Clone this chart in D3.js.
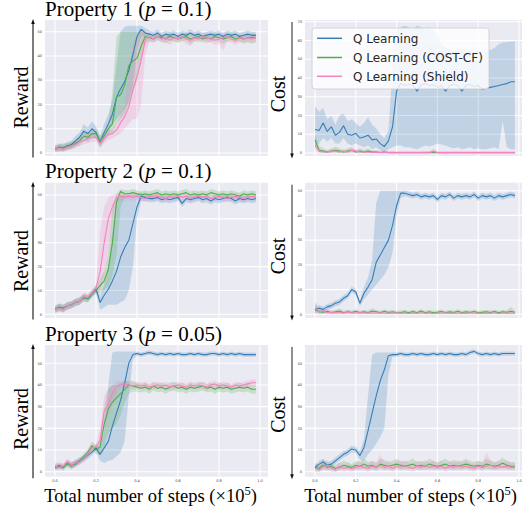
<!DOCTYPE html>
<html>
<head>
<meta charset="utf-8">
<script src="https://cdn.jsdelivr.net/npm/d3@7"></script>
<style>
  body { margin: 0; background: #fff; }
  svg { display: block; }
</style>
</head>
<body>
<div id="chart"></div>
<script>
// training steps (x 1e5)
const steps = [0,0.02,0.04,0.06,0.08,0.1,0.12,0.14,0.16,0.18,0.2,0.22,0.24,0.26,0.28,0.3,0.32,0.34,0.36,0.38,0.4,0.42,0.44,0.46,0.48,0.5,0.52,0.54,0.56,0.58,0.6,0.62,0.64,0.66,0.68,0.7,0.72,0.74,0.76,0.78,0.8,0.82,0.84,0.86,0.88,0.9,0.92,0.94,0.96,0.98];

const seriesNames = ["Q Learning", "Q Learning (COST-CF)", "Q Learning (Shield)"];
const seriesColors = ["#377eb8", "#4daf4a", "#f781bf"];
const xTicks = [0, 0.2, 0.4, 0.6, 0.8, 1.0];
const xTickLabels = ["0.0", "0.2", "0.4", "0.6", "0.8", "1.0"];
const rewardTicks = [0, 10, 20, 30, 40, 50];
const costTicksWide = [0, 10, 20, 30, 40, 50, 60, 70];
const costTicks = [0, 10, 20, 30, 40, 50];

// Property 1 - reward
const qMean1 = [1.5,2.5,2,3,3.5,5,6.5,9,8,10, 8.5,4.5,8.5,12,16,23,26.5,29.5,34,40.5, 48,51,49.5,49,48.5,49.5,48,49,48.5,49, 48,49,48.5,49.5,48.5,49,48,48.5,49,48.5, 49,48,49,48.5,49,48,48.5,49,48.5,48.5];
const qLo1 = [0.5,1,0.5,1.5,2,3,4.5,6,5.5,7, 6,2.5,5,8,12,14,16,18,21,28, 42,48,48,48,47.5,48,47,48,47.5,48, 47,48,47.5,48.5,47.5,48,47,47.5,48,47.5, 48,47,48,47.5,48,47,47.5,48,47.5,47.5];
const qHi1 = [3,4,3.5,4.5,5,7,8.5,12,10.5,13, 11,7,12,16,22,36,50,52,52.5,52.5, 52.5,52.5,51.5,50.5,50,51,49.5,50.5,50,50.5, 49.5,50.5,50,51,50,50.5,49.5,50,50.5,50, 50.5,49.5,50.5,50,50.5,49.5,50,50.5,50,50];
const cfMean1 = [1.5,2,2.5,2.5,3,4,5,7,6.5,8, 8,5,7,10,12,23,24,28,36,38, 39,44,48,47.5,47,48,47.5,47,48,47.5, 47,47.5,48,47,47.5,48,47,47.5,47,48, 47.5,47,47.5,48,47,47.5,47,47.5,47.5,47.5];
const cfLo1 = [0.5,0.5,1,1,1.5,2.5,3,5,4.5,6, 6,3,5,7,8,12,14,16,20,25, 30,38,45,46,45.5,46.5,46,45,46.5,46, 45.5,46,46.5,45,46,46.5,45.5,46,45.5,46.5, 46,45,46,46.5,45.5,46,45,45.5,45,45.5];
const cfHi1 = [3,3.5,4,4,4.5,5.5,7,9,8.5,10, 10,7,9,12,25,48,50,50,50,50, 50,50,50,49,48.5,49.5,49,48.5,49.5,49, 48.5,49,49.5,49,49,49.5,48.5,49.5,49,49.5, 49,48.5,49,49.5,48.5,49,48.5,49,49.5,49];
const shMean1 = [1.5,2,1.5,2.5,3,3.5,4.5,5,6,6.5, 6.5,4,6,7.5,8,9.5,12.5,15,19,26, 31.5,38,46.5,48,47,48,47,47.5,46.5,47.5, 47,48,47,46.5,47.5,47,48,47,47.5,46.5, 47,47.5,48,47,46.5,47.5,47,47.5,47,47.5];
const shLo1 = [0.5,0.5,0.5,1,1.5,2,3,3.5,4,4.5, 4.5,2,4,5.5,6,7,8,10,12,14, 14,20,40,46,45.5,46.5,45.5,46,44.5,46, 45.5,46.5,45,44,46,45.5,46.5,45,46,44.5, 45,42,46,45.5,44.5,46,45.5,46,45.5,46];
const shHi1 = [3,3.5,3,4,4.5,5,6,6.5,8,8.5, 8.5,6,8,9.5,10,12,16,20,35,45, 49,50,50,49.5,48.5,49.5,48.5,49,48.5,49, 48.5,49.5,49,48.5,49,48.5,49.5,48.5,49,48.5, 48.5,49,49.5,48.5,48,49,48.5,49,48.5,49];

// Property 1 - cost
const qMean2 = [12.5,12,16,11.5,14,9.5,11,14.5,10,9.5, 10.5,8,8.5,9.5,7,7.5,5,3.5,6.5,14, 33,37,36,36.5,36,33,36.5,37,36,36.5, 35,36,33,36,36.5,36,33,36,36.5,35.5, 36,34,34.5,35,35.5,36,36.5,37,38,38];
const qLo2 = [3,5,8,6,8,5,5,8,5,4, 5,4,3,4,2,3,1.5,0.5,2,3, 4,4,3,3,2.5,2,3,4,3.5,4, 5,4.5,4,3,2.5,3,2,2.5,3,2, 2.5,2,2,2.5,3,2,17,3,2,2];
const qHi2 = [25,22,24,18,20,15,20,21,17,18, 16,14,16,19,15,13,10,8,12,45, 66,67,68,67,66,68,67,66,67,65, 63,58,56,55,54,55,56,54,55,54, 55,53,54,55,56,58,59,59,59.5,59.5];
const cfMean2 = [7,1.5,1,0.5,1,1.5,1,0.5,1,1.5, 0.5,1,0.5,1,0.5,0.5,0.3,0.5,0.2,0.3, 0.2,0.2,0.2,0.2,0.2,0.2,0.2,0.3,0.2,0.2, 0.2,0.2,0.2,0.2,0.2,0.2,0.2,0.2,0.2,0.2, 0.2,0.2,0.2,0.2,0.2,0.2,0.2,0.2,0.2,0.2];
const cfLo2 = [4,0.5,0,0,0,0.5,0,0,0,0.5, 0,0,0,0,0,0,0,0,0,0, 0,0,0,0,0,0,0,0,0,0, 0,0,0,0,0,0,0,0,0,0, 0,0,0,0,0,0,0,0,0,0];
const cfHi2 = [10,4,2.5,1.5,2.5,3.5,2.5,1.5,2.5,3, 1.5,2.5,1.5,2.5,1.5,1.5,1,1.5,0.8,1, 0.8,0.8,0.8,0.8,0.8,0.8,0.8,1,0.8,0.8, 0.8,0.8,0.8,0.8,0.8,0.8,0.8,0.8,0.8,0.8, 0.8,0.8,0.8,0.8,0.8,0.8,0.8,0.8,0.8,0.8];
const shMean2 = [4,1,0.5,0.5,1,1,0.5,1,0.5,1.5, 1,0.5,0.5,0.5,0.3,0.3,0.2,0.2,0.2,0.2, 0.2,0.2,0.2,0.2,0.2,0.2,0.2,0.2,0.2,1, 0.2,0.2,0.2,0.2,0.2,0.2,0.2,0.2,0.2,0.2, 0.2,0.2,0.2,0.2,0.2,0.2,0.2,0.2,0.2,0.2];
const shLo2 = [1.5,0,0,0,0,0,0,0,0,0, 0,0,0,0,0,0,0,0,0,0, 0,0,0,0,0,0,0,0,0,0, 0,0,0,0,0,0,0,0,0,0, 0,0,0,0,0,0,0,0,0,0];
const shHi2 = [7,2,1.5,1.5,2,2,1.5,2,1.5,3, 2,1.5,1.5,1.5,1,1,0.8,0.8,0.8,0.8, 0.8,0.8,0.8,0.8,0.8,0.8,0.8,0.8,0.8,2.5, 0.8,0.8,0.8,0.8,0.8,0.8,0.8,0.8,0.8,0.8, 0.8,0.8,0.8,0.8,0.8,0.8,0.8,0.8,0.8,0.8];

// Property 2 - reward
const qMean3 = [2,3,2.5,3.5,4,5,5.5,7,6.5,8.5, 10.5,5,8,10.5,14,18,24,28,31,38, 45,49.5,49,48.5,48.5,49,48,48.5,48,48.5, 49,46.5,48.5,48,48.5,49,48,48.5,47.5,48.5, 48,48.5,49,48.5,47.5,48.5,48,48.5,48,48.5];
const qLo3 = [0.5,1.5,1,2,2.5,3.5,4,5.5,5,7, 9,2,3,4,4,4,5,6,10,20, 40,47.5,47.5,47,47,47.5,46.5,47,46.5,47, 47.5,45,47,46.5,47,47.5,46.5,47,46,47, 46.5,47,47.5,47,46,47,46.5,47,46.5,47];
const qHi3 = [3.5,4.5,4,5,5.5,6.5,7,8.5,8,10, 12,8,12,20,35,48,50,50,50,50, 50.5,51,50.5,50,50,50.5,49.5,50,49.5,50, 50.5,48,50,49.5,50,50.5,49.5,50,49,50, 49.5,50,50.5,50,49,50,49.5,50,49.5,50];
const cfMean3 = [2,3,2.5,3.5,4,5,5.5,7,6.5,8.5, 10,12,14,19,30,47,51.5,50.5,50.5,51, 50.5,50,50.5,50,50.5,51,50,50.5,50,50.5, 50,50.5,51,50,50.5,50,50.5,50,51,50.5, 50,50.5,50,50.5,50,49.5,50.5,50,50.5,50];
const cfLo3 = [0.5,1.5,1,2,2.5,3.5,4,5.5,5,7, 8.5,9,10,12,16,25,45,49,49,49.5, 49,48.5,49,48.5,49,49.5,48.5,49,48.5,49, 48.5,49,49.5,48.5,49,48.5,49,48.5,49.5,49, 48.5,49,48.5,49,48.5,48,49,48.5,49,48.5];
const cfHi3 = [3.5,4.5,4,5,5.5,6.5,7,8.5,8,10, 11.5,15,18,25,45,50.5,52.5,52,52,52.5, 52,51.5,52,51.5,52,52.5,51.5,52,51.5,52, 51.5,52,52.5,51.5,52,51.5,52,51.5,52.5,52, 51.5,52,51.5,52,51.5,51,52,51.5,52,51.5];
const shMean3 = [2,2.5,2,3.5,4,5,5.5,7.5,7,9, 11,18,30,40,45,49,49.5,49,49.5,49, 49.5,49,48.5,49.5,49,49.5,49,48.5,49.5,49, 49.5,49,49.5,48.5,49,49.5,49,49.5,48.5,49, 49.5,49,48.5,49,49.5,49,48.5,49,49.5,49];
const shLo3 = [0.5,1,0.5,2,2.5,3.5,4,6,5.5,7.5, 9.5,10,16,25,38,46,48,47.5,48,47.5, 48,47.5,47,48,47.5,48,47.5,47,48,47.5, 48,47.5,48,47,47.5,48,47.5,48,47,47.5, 48,47.5,47,47.5,48,47.5,47,47.5,48,47.5];
const shHi3 = [3.5,4,3.5,5,5.5,6.5,7,9,8.5,10.5, 12.5,35,45,49,50,50.5,51,50.5,51,50.5, 51,50.5,50,51,50.5,51,50.5,50,51,50.5, 51,50.5,51,50,50.5,51,50.5,51,50,50.5, 51,50.5,50,50.5,51,50.5,50,50.5,51,50.5];

// Property 2 - cost
const qMean4 = [1.7,2.5,2,3,3.5,4.5,5,6.5,7.5,10, 9,4.5,8.5,11,14,21,24,27,30,36, 44,49,49,48.5,48,48.5,47.5,48,47.5,48, 46.5,48,47.5,48.5,47,48,47.5,48,47.5,48.5, 47,48,47.5,48,47,48,47.5,48,48.5,48];
const qLo4 = [0.5,1.2,0.8,1.8,2.3,3.3,3.8,5.3,6.3,8.8, 7.8,3.3,6,8,10,12,14,16,19,25, 40,47,47.8,47.3,46.8,47.3,46.3,46.8,46.3,46.8, 45.3,46.8,46.3,47.3,45.8,46.8,46.3,46.8,46.3,47.3, 45.8,46.8,46.3,46.8,45.8,46.8,46.3,46.8,47.3,46.8];
const qHi4 = [3,3.8,3.2,4.2,4.7,5.7,6.2,7.7,8.7,11.2, 10.2,5.7,11,15,22,45,50,50,50,50, 50,50,50.2,49.7,49.2,49.7,48.7,49.2,48.7,49.2, 47.7,49.2,48.7,49.7,48.2,49.2,48.7,49.2,48.7,49.7, 48.2,49.2,48.7,49.2,48.2,49.2,48.7,49.2,49.7,49.2];
const cfMean4 = [2,1,0.8,1.2,0.6,1,1.3,0.6,1,0.7, 1.2,0.6,1,0.6,1.3,1,0.6,1.2,0.7,1, 0.6,0.7,1,0.6,1.1,0.6,1.3,0.6,1,0.6, 0.8,1.1,0.6,1,0.7,1.2,0.6,1,0.7,1.1, 0.6,0.8,1,0.7,1.1,0.6,1,0.8,1.2,0.8];
const cfLo4 = [0.5,0.3,0.2,0.5,0,0.3,0.6,0,0.4,0.1, 0.5,0,0.4,0,0.6,0.4,0,0.5,0.1,0.4, 0,0.1,0.4,0,0.5,0,0.6,0,0.4,0, 0.2,0.5,0,0.4,0.1,0.6,0,0.4,0.1,0.5, 0,0.2,0.4,0.1,0.5,0,0.4,0.2,0.6,0.2];
const cfHi4 = [5,2,1.6,2,1.4,1.8,2.3,1.4,1.8,1.5, 2,1.4,1.8,1.4,2.3,1.8,1.4,2,1.5,1.8, 1.4,1.5,1.8,1.4,1.9,1.4,2.1,1.4,1.8,1.4, 1.6,1.9,1.4,1.8,1.5,2,1.4,1.8,1.5,1.9, 1.4,1.6,1.8,1.5,1.9,1.4,1.8,1.6,3,1.6];
const shMean4 = [2.5,0.8,1.5,0.6,0.8,0.5,0.7,0.5,0.8,0.6, 0.5,0.7,0.5,0.6,0.4,0.5,0.6,0.4,0.5,0.4, 0.6,0.4,0.5,0.3,0.5,0.4,0.6,0.4,0.5,0.3, 0.5,0.4,0.6,0.3,0.5,0.4,0.5,0.3,0.6,0.4, 0.5,0.3,0.5,0.4,0.6,0.3,0.5,0.4,0.5,0.4];
const shLo4 = [0.8,0,0.3,0,0,0,0,0,0,0, 0,0,0,0,0,0,0,0,0,0, 0,0,0,0,0,0,0,0,0,0, 0,0,0,0,0,0,0,0,0,0, 0,0,0,0,0,0,0,0,0,0];
const shHi4 = [5,1.8,2.8,1.4,1.6,1.2,1.5,1.2,1.6,1.3, 1.2,1.5,1.2,1.3,1,1.2,1.3,1,1.2,1, 1.3,1,1.2,0.9,1.2,1,1.3,1,1.2,0.9, 1.2,1,1.3,0.9,1.2,1,1.2,0.9,1.3,1, 1.2,0.9,1.2,1,1.3,0.9,1.2,1,1.2,1];

// Property 3 - reward
const qMean5 = [2,2.5,2,4,3,3.5,5,6,7.5,9, 11,8,11,14,21,27,33,41,50,54, 54.5,54,54.5,55,54.5,54,54.5,54,54.5,54, 54.5,54,54,54.5,54,54.5,54,54,54.5,54.5, 54,54.5,54,54.5,54,54.5,54,54,54,54];
const qLo5 = [1,1.5,1,2.5,1.5,2,3.5,4.5,6,7.5, 9.5,5,4,5,5.5,7,9,14,35,52, 53.5,53,53.5,54,53.5,53,53.5,53,53.5,53, 53.5,53,53,53.5,53,53.5,53,53,53.5,53.5, 53,53.5,53,53.5,53,53.5,53,53,53,53];
const qHi5 = [3,3.5,3,5.5,4.5,5,6.5,7.5,9,10.5, 12.5,11,18,40,55,55.5,55.5,55.5,55.5,55.5, 55.5,55,55.5,56,55.5,55,55.5,55,55.5,55, 55.5,55,55,55.5,55,55.5,55,55,55.5,55.5, 55,55.5,55,55.5,55,55.5,55,55,55,55];
const cfMean5 = [2,3,2,3.5,2.5,4,5,7,9,12, 10,11.5,22,29,32,34,36,38,40,39.5, 39,38.5,39,38,39.5,38.5,39,38,39,39.5, 38.5,39,38,39,38.5,39,39.5,38.5,39,38, 39,38.5,39,38,38.5,39,38.5,39,38,38];
const cfLo5 = [0.5,1.5,0.5,2,1,2.5,3.5,5.5,7.5,10, 8,8,12,18,20,22,26,32,36,37, 37,36.5,37,36,37.5,36.5,37,36,37,37.5, 36.5,37,36,37,36.5,37,37.5,36.5,37,36, 37,36.5,37,36,36.5,37,36.5,37,36,36];
const cfHi5 = [3.5,4.5,3.5,5,4,5.5,6.5,8.5,10.5,14, 12,15,30,38,40,40,41,42,42,42, 41,40.5,41,40,41.5,40.5,41,40,41,41.5, 40.5,41,40,41,40.5,41,41.5,40.5,41,40, 41,40.5,41,40,40.5,41,40.5,41,40,40];
const shMean5 = [2.5,2,2.5,4.5,3,4,4.5,6,8,11, 11.5,14.5,28,31,36,39.5,40,40.5,40,39.5, 40,39.5,40,39,39.5,40,39.5,40,39,39.5, 40,39.5,39,40,39.5,40,39.5,39,40,40.5, 39.5,40,39.5,39,40,39.5,40,40.5,41,41];
const shLo5 = [1,0.5,1,3,1.5,2.5,3,4.5,6.5,9.5, 10,10,18,26,30,36,38.5,39,38.5,38, 38.5,38,38.5,37.5,38,38.5,38,38.5,37.5,38, 38.5,38,37.5,38.5,38,38.5,38,37.5,38.5,39, 38,38.5,38,37.5,38.5,38,38.5,39,39.5,39.5];
const shHi5 = [4,3.5,4,6,4.5,5.5,6,7.5,9.5,12.5, 13,20,35,38,40,42,41.5,42,41.5,41, 41.5,41,41.5,40.5,41,41.5,41,41.5,40.5,41, 41.5,41,40.5,41.5,41,41.5,41,40.5,41.5,42, 41,41.5,41,40.5,41.5,41,41.5,42,42.5,42.5];

// Property 3 - cost
const qMean6 = [2,3.5,4.5,3,3.5,5,6.5,8,9,10.5, 10,7.5,11,19,27,35,42,47,53.5,54, 54,54.5,54,54,54.5,54,54.5,54,54,54.5, 54,54.5,54,54.5,54,54,54.5,54,55,55.5, 54.5,54,54.5,54,54.5,54,54.5,54.5,54.5,54.5];
const qLo6 = [1,2,3,1.5,2,3.5,5,6.5,7.5,9, 8.5,5.5,5,8,10,13,16,20,45,53, 53,53.5,53,53,53.5,53,53.5,53,53,53.5, 53,53.5,53,53.5,53,53,53.5,53,54,54.5, 53.5,53,53.5,53,53.5,53,53.5,53.5,53.5,53.5];
const qHi6 = [3,5,6,4.5,5,6.5,8,9.5,10.5,12, 11.5,9.5,15,35,54,55,55,55,55,55, 55,55.5,55,55,55.5,55,55.5,55,55,55.5, 55,55.5,55,55.5,55,55,55.5,55,56,56.5, 55.5,55,55.5,55,55.5,55,55.5,55.5,55.5,55.5];
const cfMean6 = [2,1.5,3,2,2.5,1.5,2,3,2.5,2, 3,2.5,3.5,2.5,3,2,3.5,3,2.5,3, 3.5,3,2.5,3,3.5,2.5,3,2.5,3.5,3, 2.5,3,3.5,2.5,3,2.5,3,3.5,3,2.5, 3,2.5,3.5,3,2.5,3,4,3,2.5,2.5];
const cfLo6 = [0.5,0,1,0.5,1,0,0.5,1.5,1,0.5, 1,1,1.5,1,1,0.5,1.5,1,1,1, 1.5,1,1,1,1.5,1,1,1,1.5,1, 1,1,1.5,1,1,1,1,1.5,1,1, 1,1,1.5,1,1,1,2,1,1,1];
const cfHi6 = [4,3,5.5,3.5,4,3,4,5,4.5,3.5, 5,4.5,6,4.5,5,4,6,5.5,4.5,5, 6,5,4.5,5,6,4.5,5,4.5,6,5, 4.5,5,6,4.5,5.5,4.5,5,6,5,4.5, 5,4.5,6,5,4.5,5,6.5,5,4.5,4.5];
const shMean6 = [1.5,1,2,3,1.5,1,2.5,1.5,2,1.5, 2,2.5,2,1.5,2.5,2,3,2,2.5,1.5, 2.5,2,3,2,1.5,2.5,2,3,2,2.5, 2,2.5,1.5,2.5,2,3,2,2.5,2,1.5, 2.5,2,2.5,3,2,2.5,2,2.5,2,2];
const shLo6 = [0,0,0.5,1,0,0,1,0,0.5,0, 0.5,1,0.5,0,1,0.5,1,0.5,1,0, 1,0.5,1,0.5,0,1,0.5,1,0.5,1, 0.5,1,0,1,0.5,1,0.5,1,0.5,0, 1,0.5,1,1,0.5,1,0.5,1,0.5,0.5];
const shHi6 = [3,2.5,4,5.5,3,2.5,4.5,3,4,3, 4,5,4,3.5,5,4,8,4,5,3.5, 5,4.5,5.5,4,3.5,5,4,5.5,4,5, 4,5,3.5,5,4,5.5,4,5,4,3.5, 5,4,8.5,5.5,4,5,4,5,4,4];

const rowTitles = [["Property 1 (", "p", " = 0.1)"], ["Property 2 (", "p", " = 0.1)"], ["Property 3 (", "p", " = 0.05)"]];

// layout (pixels)
const cols = [
  { left: 45, right: 268, x0: 55, x1: 260 },
  { left: 305, right: 528, x0: 315, x1: 519 }
];
const rows = [
  { top: 20, bottom: 156, titleY: 16 },
  { top: 182.7, bottom: 318, titleY: 177.5 },
  { top: 345, bottom: 476.7, titleY: 340.5 }
];

const panels = [
  { row: 0, col: 0, y0: 153, yTop: 31.7, topVal: 50, ticks: rewardTicks, label: "Reward", labelY: 97.5,
    series: [[qMean1, qLo1, qHi1], [cfMean1, cfLo1, cfHi1], [shMean1, shLo1, shHi1]] },
  { row: 0, col: 1, y0: 153, yTop: 21.7, topVal: 70, ticks: costTicksWide, label: "Cost", labelY: 94,
    series: [[qMean2, qLo2, qHi2], [cfMean2, cfLo2, cfHi2], [shMean2, shLo2, shHi2]] },
  { row: 1, col: 0, y0: 314.3, yTop: 195, topVal: 50, ticks: rewardTicks, label: "Reward", labelY: 261,
    series: [[qMean3, qLo3, qHi3], [cfMean3, cfLo3, cfHi3], [shMean3, shLo3, shHi3]] },
  { row: 1, col: 1, y0: 314.3, yTop: 190.7, topVal: 50, ticks: costTicks, label: "Cost", labelY: 256,
    series: [[qMean4, qLo4, qHi4], [cfMean4, cfLo4, cfHi4], [shMean4, shLo4, shHi4]] },
  { row: 2, col: 0, y0: 471.7, yTop: 363.3, topVal: 50, ticks: rewardTicks, label: "Reward", labelY: 419,
    series: [[qMean5, qLo5, qHi5], [cfMean5, cfLo5, cfHi5], [shMean5, shLo5, shHi5]] },
  { row: 2, col: 1, y0: 471.7, yTop: 363.3, topVal: 50, ticks: costTicks, label: "Cost", labelY: 414.5,
    series: [[qMean6, qLo6, qHi6], [cfMean6, cfLo6, cfHi6], [shMean6, shLo6, shHi6]] }
];

const svg = d3.select("#chart").append("svg")
  .attr("width", 522).attr("height", 512)
  .attr("viewBox", [0, 0, 522, 512]);

svg.append("rect").attr("width", 522).attr("height", 512).attr("fill", "#fff");

const serif = "'Liberation Serif', 'Times New Roman', serif";
const sans = "'DejaVu Sans', sans-serif";

panels.forEach((p, pi) => {
  const c = cols[p.col], r = rows[p.row];
  const x = d3.scaleLinear().domain([0, 1]).range([c.x0, c.x1]);
  const y = d3.scaleLinear().domain([0, p.topVal]).range([p.y0, p.yTop]);
  const g = svg.append("g");

  const clipId = "clip" + pi;
  svg.append("clipPath").attr("id", clipId)
    .append("rect")
    .attr("x", c.left).attr("y", r.top)
    .attr("width", c.right - c.left).attr("height", r.bottom - r.top);

  // background + grid
  g.append("rect")
    .attr("x", c.left).attr("y", r.top)
    .attr("width", c.right - c.left).attr("height", r.bottom - r.top)
    .attr("fill", "#eaeaf2");

  g.selectAll(".hgrid").data(p.ticks).join("line")
    .attr("x1", c.left).attr("x2", c.right)
    .attr("y1", d => y(d)).attr("y2", d => y(d))
    .attr("stroke", "#fff").attr("stroke-width", 1.1);

  g.selectAll(".vgrid").data(xTicks).join("line")
    .attr("x1", d => x(d)).attr("x2", d => x(d))
    .attr("y1", r.top).attr("y2", r.bottom)
    .attr("stroke", "#fff").attr("stroke-width", 1.1);

  // tick labels (tiny)
  g.selectAll(".ylab").data(p.ticks).join("text")
    .attr("x", c.left - 3).attr("y", d => y(d) + 1.2)
    .attr("text-anchor", "end")
    .attr("font-family", sans).attr("font-size", 3.6)
    .attr("fill", "#444")
    .text(d => d);

  if (p.row === 2) {
    g.selectAll(".xlab").data(xTicks).join("text")
      .attr("x", d => x(d)).attr("y", 482)
      .attr("text-anchor", "middle")
      .attr("font-family", sans).attr("font-size", 3.6)
      .attr("fill", "#444")
      .text((d, i) => xTickLabels[i]);
  }

  const plot = g.append("g").attr("clip-path", `url(#${clipId})`);

  const area = d3.area()
    .x((d, i) => x(steps[i]))
    .y0(d => y(d[0]))
    .y1(d => y(d[1]));
  const line = d3.line()
    .x((d, i) => x(steps[i]))
    .y(d => y(d));

  // bands first, then mean lines
  p.series.forEach((s, si) => {
    const band = s[1].map((lo, i) => [lo, s[2][i]]);
    plot.append("path")
      .attr("d", area(band))
      .attr("fill", seriesColors[si])
      .attr("fill-opacity", 0.22);
  });
  p.series.forEach((s, si) => {
    plot.append("path")
      .attr("d", line(s[0]))
      .attr("fill", "none")
      .attr("stroke", seriesColors[si])
      .attr("stroke-width", 1.1)
      .attr("stroke-linejoin", "round");
  });

  // y axis label
  const labelX = p.col === 0 ? 28 : 285;
  svg.append("text")
    .attr("transform", `translate(${labelX},${p.labelY}) rotate(-90)`)
    .attr("text-anchor", "middle")
    .attr("font-family", serif).attr("font-size", 20)
    .attr("fill", "#000")
    .text(p.label);

  // arrow along the y axis: up for reward, down for cost
  const ax = p.col === 0 ? 33 : 292;
  const aTop = r.top + (p.col === 0 ? 0 : 2);
  const aBot = r.bottom + 1.5;
  if (p.col === 0) {
    svg.append("line").attr("x1", ax).attr("x2", ax).attr("y1", aTop + 3).attr("y2", aBot)
      .attr("stroke", "#111").attr("stroke-width", 1.1);
    svg.append("path")
      .attr("d", `M${ax},${aTop - 1}L${ax - 1.8},${aTop + 4}L${ax + 1.8},${aTop + 4}Z`)
      .attr("fill", "#111");
  } else {
    svg.append("line").attr("x1", ax).attr("x2", ax).attr("y1", aTop).attr("y2", aBot - 3)
      .attr("stroke", "#333").attr("stroke-width", 1.1);
    svg.append("path")
      .attr("d", `M${ax},${aBot + 1}L${ax - 1.8},${aBot - 4}L${ax + 1.8},${aBot - 4}Z`)
      .attr("fill", "#111");
  }

  // x label on bottom row
  if (p.row === 2) {
    const xl = svg.append("text")
      .attr("x", (c.left + c.right) / 2 - 6).attr("y", 502)
      .attr("text-anchor", "middle")
      .attr("font-family", serif).attr("font-size", 18.5)
      .attr("fill", "#000");
    xl.append("tspan").text("Total number of steps (×10");
    xl.append("tspan").attr("font-size", 12.5).attr("dy", -7).text("5");
    xl.append("tspan").attr("dy", 7).text(")");
  }
});

// row titles, left aligned on the left column
rows.forEach((r, ri) => {
  const t = svg.append("text")
    .attr("x", cols[0].left).attr("y", r.titleY)
    .attr("font-family", serif).attr("font-size", 21)
    .attr("fill", "#000");
  t.append("tspan").text(rowTitles[ri][0]);
  t.append("tspan").attr("font-style", "italic").text(rowTitles[ri][1]);
  t.append("tspan").text(rowTitles[ri][2]);
});

// legend in the top right panel
const legend = svg.append("g");
legend.append("rect")
  .attr("x", 312).attr("y", 28).attr("width", 177).attr("height", 61)
  .attr("rx", 3)
  .attr("fill", "#fff").attr("fill-opacity", 0.8)
  .attr("stroke", "#cccccc").attr("stroke-width", 0.8);
const legendRows = [38.3, 57.5, 76.3];
seriesNames.forEach((name, i) => {
  legend.append("line")
    .attr("x1", 317).attr("x2", 342)
    .attr("y1", legendRows[i]).attr("y2", legendRows[i])
    .attr("stroke", seriesColors[i]).attr("stroke-width", 1.5);
  legend.append("text")
    .attr("x", 353).attr("y", legendRows[i] + 4.4)
    .attr("font-family", sans).attr("font-size", 12)
    .attr("fill", "#262626")
    .text(name);
});
</script>
</body>
</html>
